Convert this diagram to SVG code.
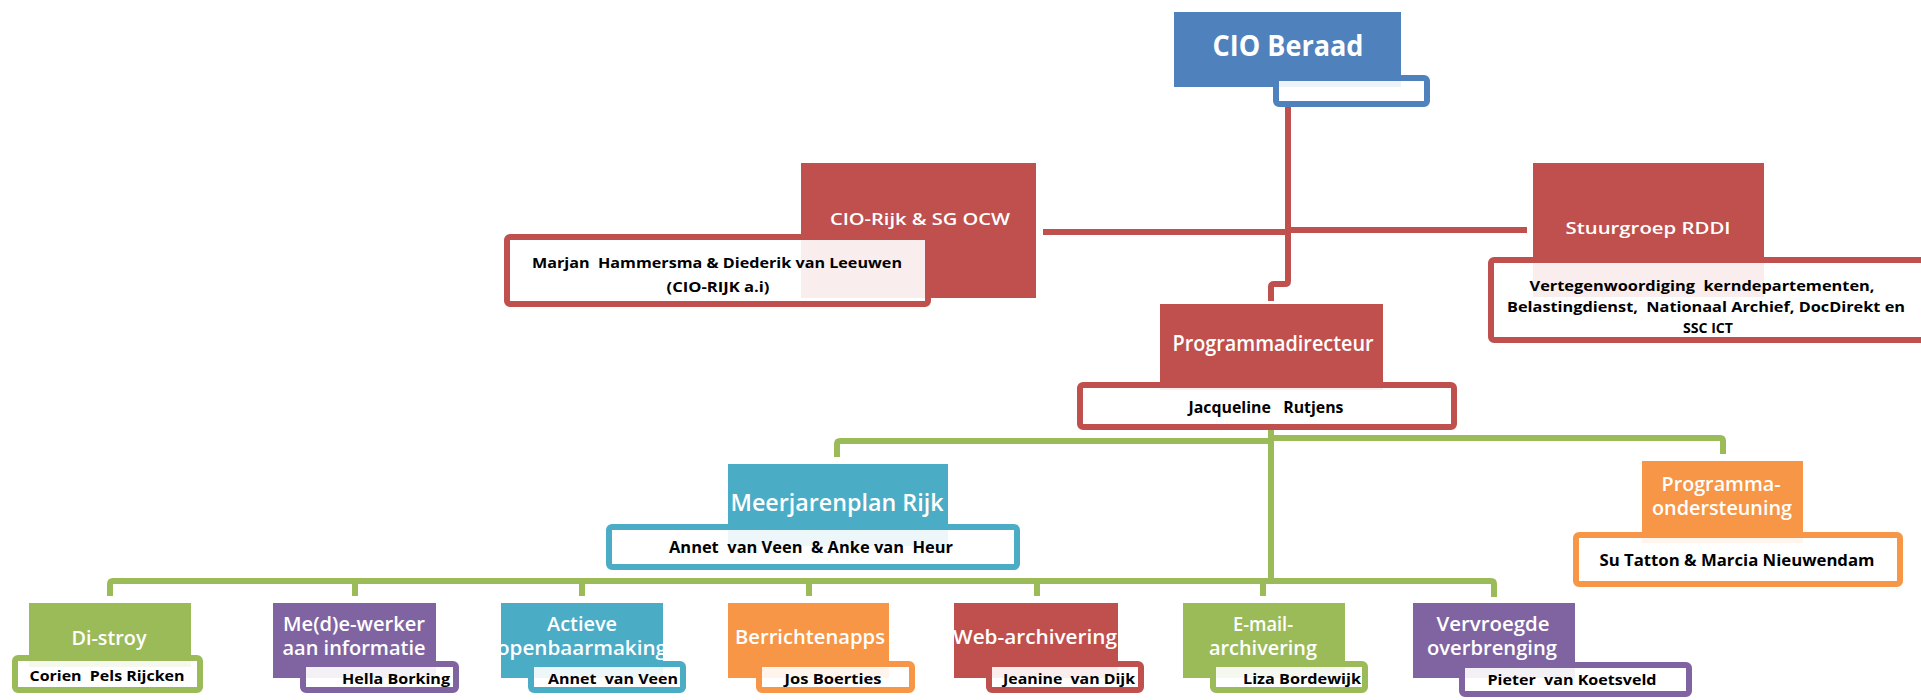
<svg xmlns="http://www.w3.org/2000/svg" width="1921" height="700" viewBox="0 0 1921 700">
<defs>
<style>
.bg{fill:#ffffff}
.blue{fill:#4F81BD}
.red{fill:#C0504D}
.green{fill:#9BBB59}
.purple{fill:#8064A2}
.teal{fill:#4BACC6}
.orange{fill:#F79646}
.wb{fill:#ffffff;fill-opacity:0.9;stroke-width:6}
.sb{stroke:#4F81BD}
.sr{stroke:#C0504D}
.sg{stroke:#9BBB59}
.sp{stroke:#8064A2}
.st{stroke:#4BACC6}
.so{stroke:#F79646}
.t{font-family:"Open Sans","Noto Sans",sans-serif;font-weight:600;fill:#ffffff;text-anchor:middle;dominant-baseline:central}
.tb{font-weight:bold}
.n{font-family:"Open Sans","Noto Sans",sans-serif;font-weight:bold;fill:#000000;text-anchor:middle;dominant-baseline:central}
.cr{fill:none;stroke:#C0504D;stroke-width:6;stroke-linejoin:round}
.cg{fill:none;stroke:#9BBB59;stroke-width:6;stroke-linejoin:round}
</style>
<clipPath id="clipAct"><rect x="501" y="603" width="162" height="75"/></clipPath>
<clipPath id="clipWeb"><rect x="954" y="603" width="164" height="75"/></clipPath>
</defs>
<rect class="bg" x="0" y="0" width="1921" height="700"/>

<g id="connectors">
<path class="cr" d="M1288,107 V281 Q1288,284 1285,284 H1274 Q1271,284 1271,287 V301"/>
<path class="cr" d="M1043,232 H1288"/>
<path class="cr" d="M1288,230 H1527"/>
<path class="cg" d="M1271,430 V581"/>
<path class="cg" d="M837,457 V444 Q837,441 840,441 H1271"/>
<path class="cg" d="M1271,438 H1720 Q1723,438 1723,441 V454"/>
<path class="cg" d="M110,596 V584 Q110,581 113,581 H1491 Q1494,581 1494,584 V597"/>
<path class="cg" d="M355,581 V596 M582,581 V596 M809,581 V596 M1037,581 V596 M1263,581 V596"/>
</g>

<g id="cio-beraad">
<rect class="blue" x="1174" y="12" width="227" height="75"/>
<rect class="wb sb" x="1276" y="78" width="151" height="26" rx="3"/>
<text class="t tb" x="1288" y="45" font-size="28" textLength="151" lengthAdjust="spacingAndGlyphs">CIO Beraad</text>
</g>

<g id="cio-rijk">
<rect class="red" x="801" y="163" width="235" height="135"/>
<rect class="wb sr" x="507" y="237" width="421" height="67" rx="3"/>
<text class="t" x="920" y="218" font-size="17" textLength="180" lengthAdjust="spacingAndGlyphs">CIO-Rijk &amp; SG OCW</text>
<text class="n" x="717" y="262" font-size="15" textLength="370" lengthAdjust="spacingAndGlyphs" xml:space="preserve">Marjan  Hammersma &amp; Diederik van Leeuwen</text>
<text class="n" x="718" y="286" font-size="15" textLength="103" lengthAdjust="spacingAndGlyphs">(CIO-RIJK a.i)</text>
</g>

<g id="stuurgroep">
<rect class="red" x="1533" y="163" width="231" height="134"/>
<rect class="wb sr" x="1491" y="260" width="433" height="80" rx="3"/>
<text class="t" x="1648" y="227" font-size="17" textLength="165" lengthAdjust="spacingAndGlyphs">Stuurgroep RDDI</text>
<text class="n" x="1702" y="285" font-size="15" textLength="345" lengthAdjust="spacingAndGlyphs" xml:space="preserve">Vertegenwoordiging  kerndepartementen,</text>
<text class="n" x="1706" y="306" font-size="15" textLength="398" lengthAdjust="spacingAndGlyphs" xml:space="preserve">Belastingdienst,  Nationaal Archief, DocDirekt en</text>
<text class="n" x="1708" y="327" font-size="15" textLength="50" lengthAdjust="spacingAndGlyphs">SSC ICT</text>
</g>

<g id="programmadirecteur">
<rect class="red" x="1160" y="304" width="223" height="86"/>
<rect class="wb sr" x="1080" y="385" width="374" height="42" rx="3"/>
<text class="t" x="1273" y="343" font-size="21" textLength="201" lengthAdjust="spacingAndGlyphs">Programmadirecteur</text>
<text class="n" x="1266" y="407" font-size="16" textLength="155" lengthAdjust="spacingAndGlyphs" xml:space="preserve">Jacqueline   Rutjens</text>
</g>

<g id="meerjarenplan">
<rect class="teal" x="728" y="464" width="220" height="82"/>
<rect class="wb st" x="609" y="527" width="408" height="40" rx="3"/>
<text class="t" x="837" y="502" font-size="23" textLength="213" lengthAdjust="spacingAndGlyphs">Meerjarenplan Rijk</text>
<text class="n" x="811" y="547" font-size="16" textLength="284" lengthAdjust="spacingAndGlyphs" xml:space="preserve">Annet  van Veen  &amp; Anke van  Heur</text>
</g>

<g id="programma-ondersteuning">
<rect class="orange" x="1642" y="461" width="161" height="82"/>
<rect class="wb so" x="1576" y="535" width="324" height="49" rx="3"/>
<text class="t" x="1721" y="483" font-size="20" textLength="119" lengthAdjust="spacingAndGlyphs">Programma-</text>
<text class="t" x="1722" y="507" font-size="20" textLength="140" lengthAdjust="spacingAndGlyphs">ondersteuning</text>
<text class="n" x="1737" y="560" font-size="16" textLength="275" lengthAdjust="spacingAndGlyphs">Su Tatton &amp; Marcia Nieuwendam</text>
</g>

<g id="di-stroy">
<rect class="green" x="29" y="603" width="162" height="64"/>
<rect class="wb sg" x="15" y="658" width="185" height="32" rx="3"/>
<text class="t" x="109" y="637" font-size="20" textLength="75" lengthAdjust="spacingAndGlyphs">Di-stroy</text>
<text class="n" x="107" y="675" font-size="15" textLength="155" lengthAdjust="spacingAndGlyphs" xml:space="preserve">Corien  Pels Rijcken</text>
</g>

<g id="medewerker">
<rect class="purple" x="273" y="603" width="163" height="75"/>
<rect class="wb sp" x="303" y="664" width="153" height="26" rx="3"/>
<text class="t" x="354" y="623" font-size="20" textLength="142" lengthAdjust="spacingAndGlyphs">Me(d)e-werker</text>
<text class="t" x="354" y="647" font-size="20" textLength="143" lengthAdjust="spacingAndGlyphs">aan informatie</text>
<text class="n" x="396" y="678" font-size="15" textLength="108" lengthAdjust="spacingAndGlyphs">Hella Borking</text>
</g>

<g id="actieve-openbaarmaking">
<rect class="teal" x="501" y="603" width="162" height="75"/>
<rect class="wb st" x="531" y="664" width="152" height="26" rx="3"/>
<text class="t" x="582" y="623" font-size="20" textLength="70" lengthAdjust="spacingAndGlyphs">Actieve</text>
<text class="t" x="582" y="647" font-size="20" textLength="170" lengthAdjust="spacingAndGlyphs" clip-path="url(#clipAct)">openbaarmaking</text>
<text class="n" x="613" y="678" font-size="15" textLength="130" lengthAdjust="spacingAndGlyphs" xml:space="preserve">Annet  van Veen</text>
</g>

<g id="berrichtenapps">
<rect class="orange" x="728" y="603" width="161" height="75"/>
<rect class="wb so" x="759" y="664" width="153" height="26" rx="3"/>
<text class="t" x="810" y="636" font-size="20" textLength="150" lengthAdjust="spacingAndGlyphs">Berrichtenapps</text>
<text class="n" x="833" y="678" font-size="15" textLength="97" lengthAdjust="spacingAndGlyphs">Jos Boerties</text>
</g>

<g id="web-archivering">
<rect class="red" x="954" y="603" width="164" height="75"/>
<rect class="wb sr" x="989" y="664" width="152" height="26" rx="3"/>
<text class="t" x="1035" y="636" font-size="20" textLength="164" lengthAdjust="spacingAndGlyphs" clip-path="url(#clipWeb)">Web-archivering</text>
<text class="n" x="1069" y="678" font-size="15" textLength="132" lengthAdjust="spacingAndGlyphs" xml:space="preserve">Jeanine  van Dijk</text>
</g>

<g id="email-archivering">
<rect class="green" x="1183" y="603" width="162" height="75"/>
<rect class="wb sg" x="1213" y="664" width="152" height="26" rx="3"/>
<text class="t" x="1263" y="623" font-size="20" textLength="60" lengthAdjust="spacingAndGlyphs">E-mail-</text>
<text class="t" x="1263" y="647" font-size="20" textLength="108" lengthAdjust="spacingAndGlyphs">archivering</text>
<text class="n" x="1302" y="678" font-size="15" textLength="118" lengthAdjust="spacingAndGlyphs">Liza Bordewijk</text>
</g>

<g id="vervroegde-overbrenging">
<rect class="purple" x="1413" y="603" width="162" height="75"/>
<rect class="wb sp" x="1462" y="665" width="227" height="29" rx="3"/>
<text class="t" x="1493" y="623" font-size="20" textLength="113" lengthAdjust="spacingAndGlyphs">Vervroegde</text>
<text class="t" x="1492" y="647" font-size="20" textLength="130" lengthAdjust="spacingAndGlyphs">overbrenging</text>
<text class="n" x="1572" y="679" font-size="15" textLength="169" lengthAdjust="spacingAndGlyphs" xml:space="preserve">Pieter  van Koetsveld</text>
</g>
</svg>
